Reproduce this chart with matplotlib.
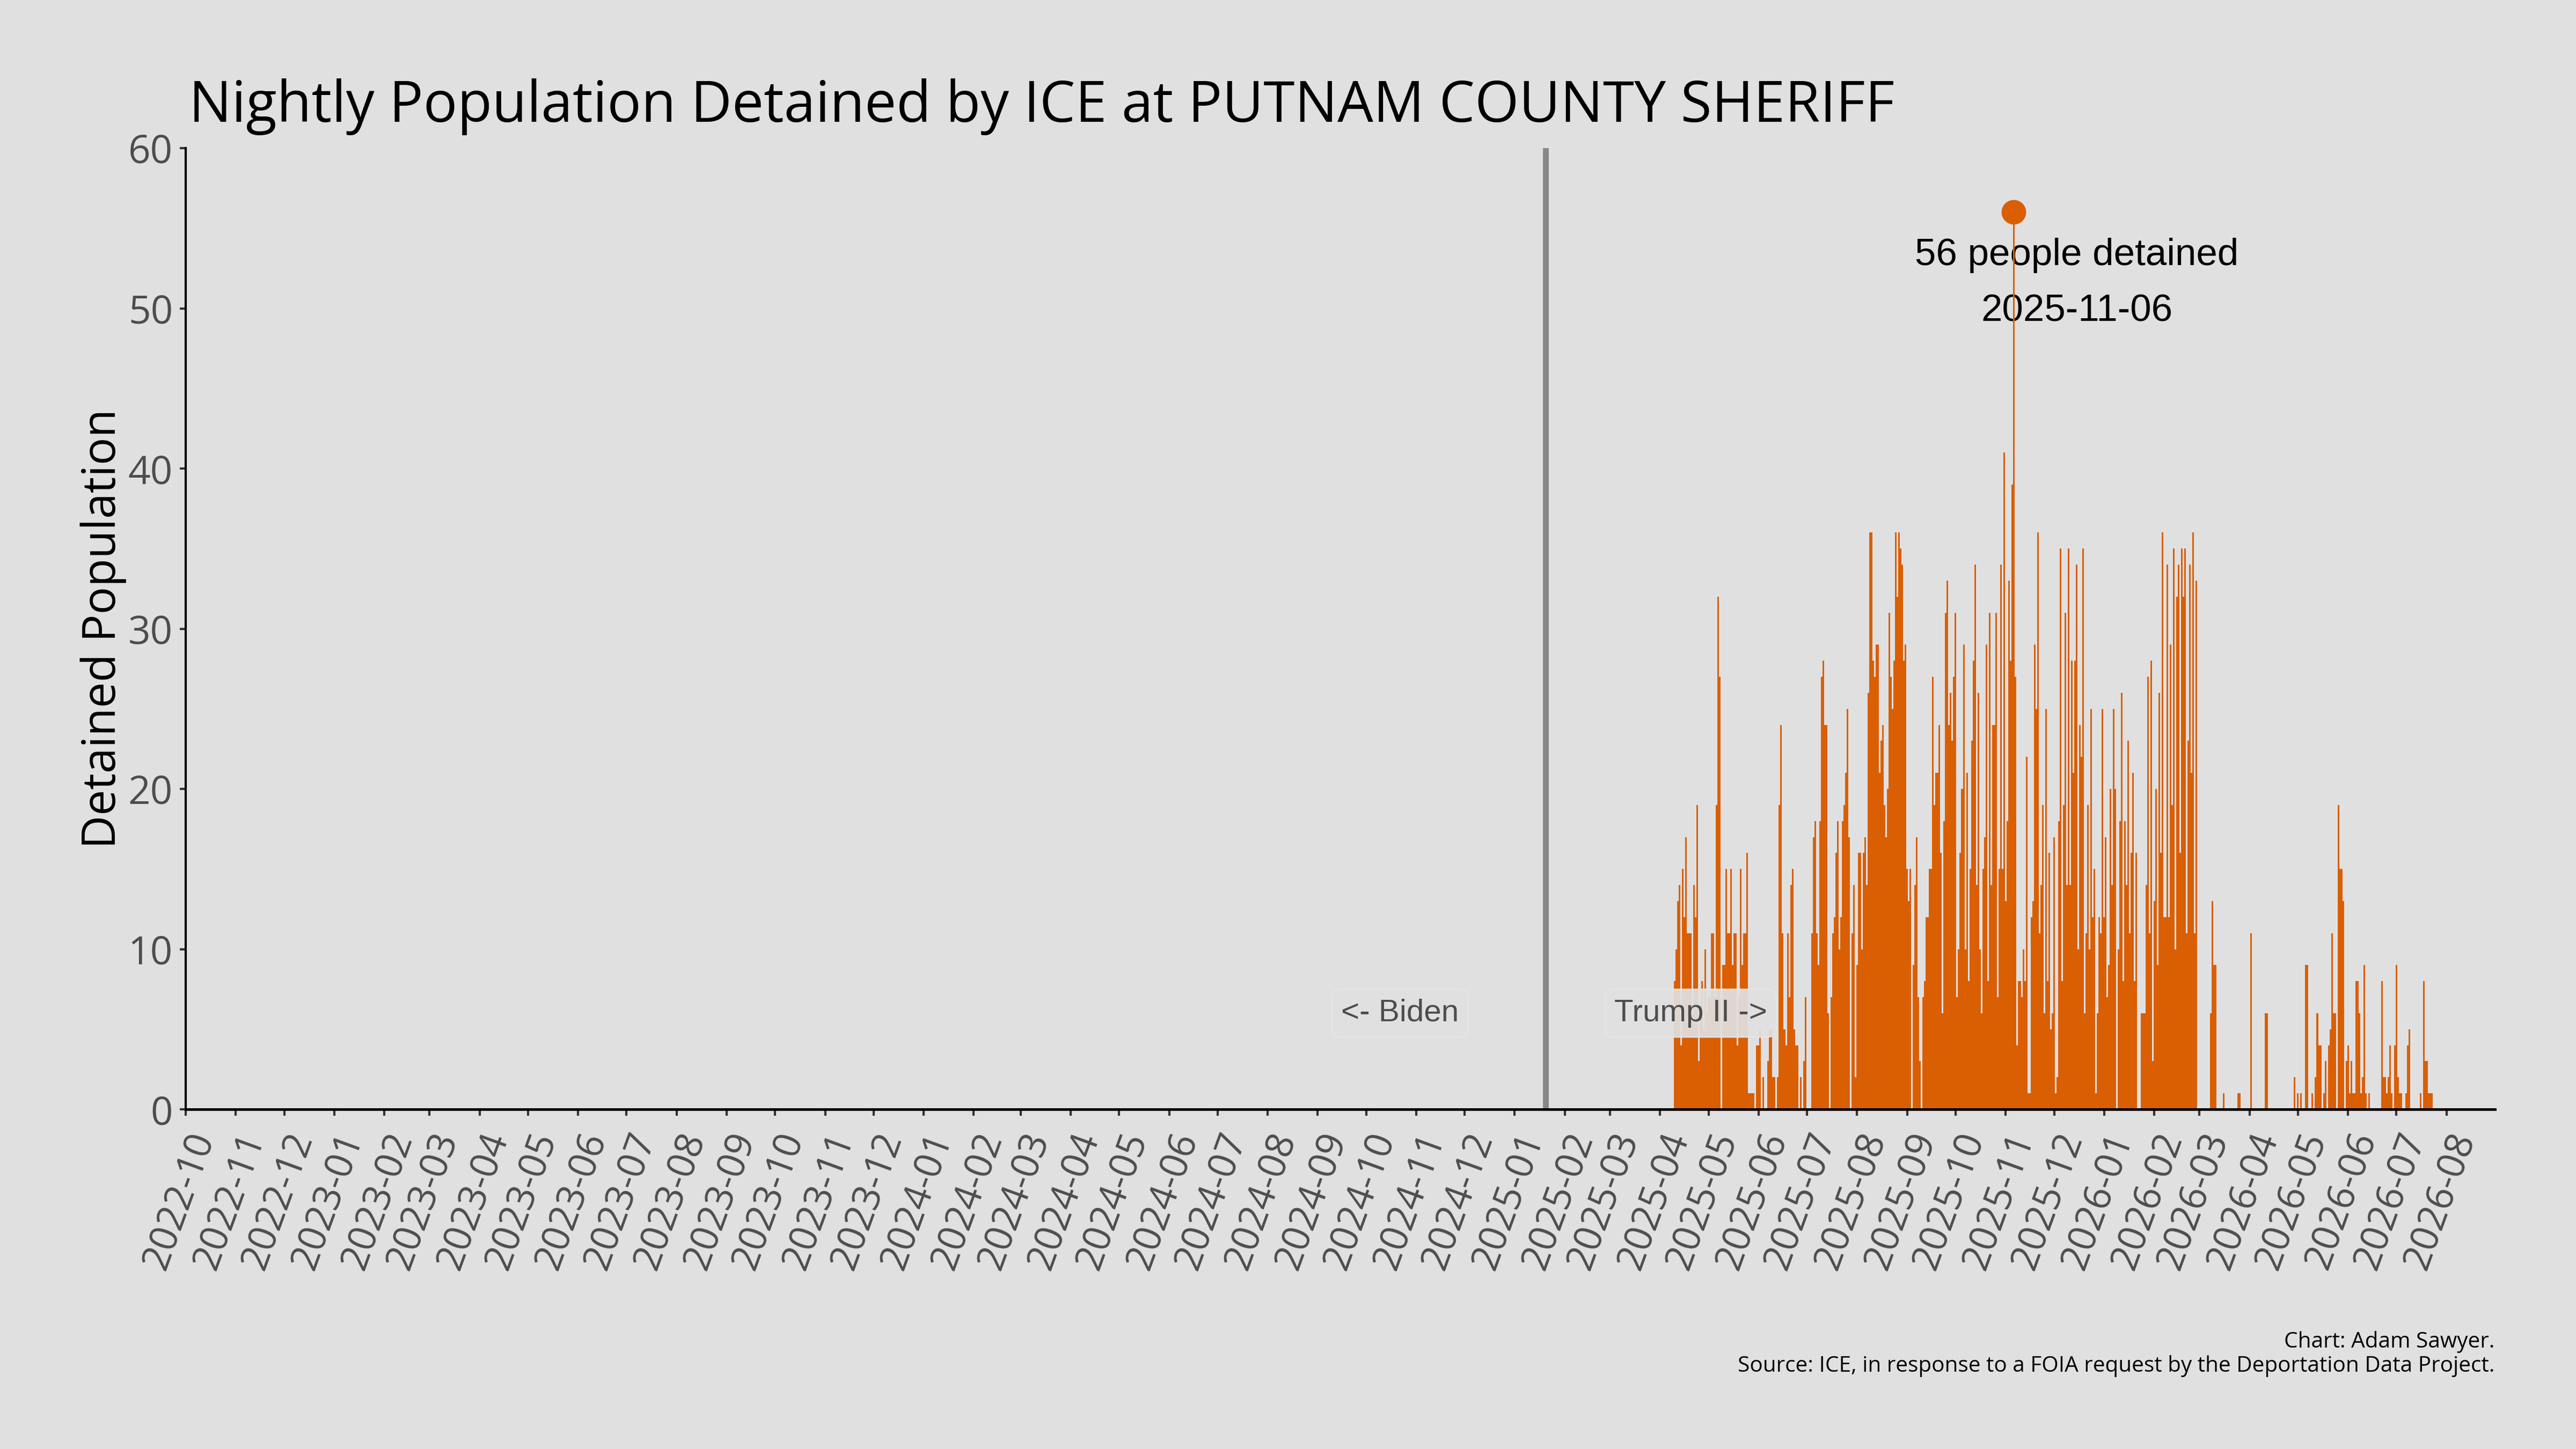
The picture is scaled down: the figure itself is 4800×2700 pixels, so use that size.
import matplotlib
matplotlib.use("Agg")
import matplotlib.pyplot as plt
import matplotlib.dates as mdates
import numpy as np
import pandas as pd

# ---------------- data (nightly detained population, daily) ----------------
series_start = "2025-04-10"
apr_2025 = [8, 10, 13, 14, 4, 15, 12, 17, 11, 11, 11, 6, 14, 12, 19, 3, 6, 8, 5, 10, 6]
may_2025 = [7, 7, 11, 11, 7, 19, 32, 27, 0, 9, 9, 15, 11, 11, 15, 9, 11, 11, 4, 7,
            15, 9, 11, 11, 16, 1, 1, 1, 1, 0, 4]
jun_2025 = [4, 5, 0, 2, 0, 0, 3, 5, 5, 2, 2, 0, 2, 19, 24, 11, 5, 4, 11, 7,
            14, 15, 5, 4, 4, 0, 2, 0, 3, 7]
jul_2025 = [0, 0, 0, 11, 17, 18, 11, 9, 18, 27, 28, 24, 24, 6, 0, 7, 11, 12, 16, 18,
            10, 12, 18, 19, 21, 25, 17, 0, 11, 14, 2]
aug_2025 = [9, 16, 16, 10, 16, 17, 14, 26, 36, 36, 28, 27, 29, 29, 21, 23, 24, 19, 17, 20,
            31, 27, 25, 28, 36, 32, 36, 35, 34, 28, 29]
sep_2025 = [15, 13, 15, 0, 9, 14, 17, 7, 3, 0, 7, 8, 12, 12, 15, 15, 27, 19, 21, 21,
            24, 16, 6, 18, 31, 33, 24, 26, 23, 27]
oct_2025 = [31, 7, 10, 16, 20, 29, 10, 21, 8, 15, 23, 28, 34, 14, 26, 10, 6, 15, 17, 29,
            8, 31, 14, 24, 24, 31, 7, 15, 34, 15, 41]
nov_2025 = [13, 18, 33, 28, 39, 56, 27, 4, 8, 8, 7, 10, 8, 22, 1, 1, 12, 13, 29, 25,
            36, 11, 14, 19, 6, 25, 8, 16, 5, 6]
dec_2025 = [17, 1, 2, 18, 35, 8, 19, 31, 14, 35, 14, 28, 21, 28, 34, 10, 24, 22, 35, 6,
            11, 19, 10, 25, 12, 15, 1, 6, 12, 11, 25]
jan_2026 = [12, 17, 7, 9, 20, 14, 25, 20, 0, 10, 18, 26, 8, 18, 14, 23, 11, 16, 21, 8,
            16, 0, 0, 6, 6, 6, 14, 27, 11, 28, 3]
feb_2026 = [13, 20, 9, 26, 16, 36, 12, 12, 34, 12, 29, 19, 35, 10, 32, 34, 16, 35, 32, 35,
            11, 23, 34, 21, 36, 11, 33, 0]
mar_2026 = [0, 0, 0, 0, 0, 0, 0, 6, 13, 9, 9, 0, 0, 0, 0, 1, 0, 0, 0, 0,
            0, 0, 0, 0, 1, 1, 0, 0, 0, 0, 0]
apr_2026 = [0, 11, 0, 0, 0, 0, 0, 0, 0, 0, 6, 6, 0, 0, 0, 0, 0, 0, 0, 0,
            0, 0, 0, 0, 0, 0, 0, 0, 2, 0]
may_2026 = [1, 0, 1, 0, 0, 9, 9, 0, 0, 1, 0, 2, 6, 4, 4, 0, 1, 3, 0, 4,
            5, 11, 6, 6, 0, 19, 15, 15, 13, 0, 3]
jun_2026 = [4, 1, 3, 1, 1, 8, 8, 6, 1, 2, 9, 1, 0, 1, 0, 0, 0, 0, 0, 0,
            0, 8, 2, 2, 1, 2, 4, 1, 0, 4]
jul_2026 = [9, 2, 1, 1, 0, 0, 1, 4, 5, 0, 0, 0, 0, 0, 0, 1, 0, 8, 3, 3, 1, 1, 1]

inauguration = "2025-01-20"
x_start, x_end = "2022-10-01", "2026-08-31"
title = "Nightly Population Detained by ICE at PUTNAM COUNTY SHERIFF"
y_label = "Detained Population"
left_label, right_label = "<- Biden", "Trump II ->"
caption_1 = "Chart: Adam Sawyer."
caption_2 = "Source: ICE, in response to a FOIA request by the Deportation Data Project."

values = np.array(apr_2025 + may_2025 + jun_2025 + jul_2025 + aug_2025 + sep_2025 +
                  oct_2025 + nov_2025 + dec_2025 + jan_2026 + feb_2026 + mar_2026 +
                  apr_2026 + may_2026 + jun_2026 + jul_2026)
dates = pd.date_range(series_start, periods=len(values), freq="D")

# ---------------- style ----------------
BG = "#e0e0e0"
ORANGE = "#d95f02"
GREY_TXT = "#4d4d4d"
UI_FONT = ["Open Sans", "DejaVu Sans"]
ARIAL = ["Liberation Sans", "DejaVu Sans"]

W, H = 4800, 2700
fig = plt.figure(figsize=(16, 9), dpi=300, facecolor=BG)
ax_left, ax_right, ax_bottom, ax_top = 346 / W, 4649 / W, 1 - 2067 / H, 1 - 276 / H
ax = fig.add_axes([ax_left, ax_bottom, ax_right - ax_left, ax_top - ax_bottom])
ax.set_facecolor(BG)

ax.bar(dates, values, width=1.0, color=ORANGE, linewidth=0, antialiased=False, zorder=2)

ax.set_xlim(mdates.date2num(pd.Timestamp(x_start)), mdates.date2num(pd.Timestamp(x_end)))
ax.set_ylim(0, 60)
ax.set_yticks(np.arange(0, 61, 10))

ax.xaxis.set_major_locator(mdates.MonthLocator())
ax.xaxis.set_major_formatter(mdates.DateFormatter("%Y-%m"))

for s in ["top", "right"]:
    ax.spines[s].set_visible(False)
ax.spines["left"].set_linewidth(1.0)
ax.spines["bottom"].set_linewidth(1.2)
ax.spines["left"].set_color("black")
ax.spines["bottom"].set_color("black")

ax.tick_params(axis="x", length=2.9, width=1.0, color="#333333", pad=5.0,
               labelsize=17, labelcolor=GREY_TXT)
ax.tick_params(axis="y", length=2.6, width=1.0, color="#333333", pad=3.1,
               labelsize=17.5, labelcolor=GREY_TXT)
for lab in ax.get_xticklabels():
    lab.set_rotation(70)
    lab.set_ha("right")
    lab.set_va("top")
    lab.set_rotation_mode("anchor")
    lab.set_family(UI_FONT)
for lab in ax.get_yticklabels():
    lab.set_family(UI_FONT)

# inauguration divider
inaug = pd.Timestamp(inauguration)
ax.axvline(inaug, color="#888888", lw=2.6, zorder=1.5)

box_kw = dict(boxstyle="round,pad=0.3", fc=BG, ec="#e6e6e6", lw=0.6, alpha=0.93)
ax.text(inaug - pd.Timedelta(days=90), 6, left_label, ha="center", va="center",
        fontsize=14, color=GREY_TXT, family=ARIAL, bbox=box_kw, zorder=4)
ax.text(inaug + pd.Timedelta(days=90), 6, right_label, ha="center", va="center",
        fontsize=14, color=GREY_TXT, family=ARIAL, bbox=box_kw, zorder=4)

# peak annotation
i_peak = int(np.argmax(values))
peak_date, peak_val = dates[i_peak], values[i_peak]
ax.plot([peak_date], [peak_val], "o", color=ORANGE, ms=10, zorder=5, clip_on=False)
lab_x = peak_date + pd.Timedelta(days=39)
ax.text(lab_x, peak_val - 3.3, f"{peak_val} people detained", ha="center",
        va="baseline", fontsize=17, color="black", family=ARIAL, zorder=1)
ax.text(lab_x, peak_val - 6.8, peak_date.strftime("%Y-%m-%d"), ha="center",
        va="baseline", fontsize=17, color="black", family=ARIAL, zorder=1)

# ---------------- figure texts ----------------
renderer = fig.canvas.get_renderer()


def fit_width(t, target_px, use_height=False):
    bb = t.get_window_extent(renderer)
    cur = bb.height if use_height else bb.width
    t.set_fontsize(t.get_fontsize() * target_px / cur)


t_title = fig.text(352 / W, 1 - 227 / H, title, ha="left", va="baseline",
                   fontsize=26, color="black", family=UI_FONT)
fit_width(t_title, 3180)

t_ylab = fig.text(215 / W, (ax_bottom + ax_top) / 2, y_label, rotation=90,
                  rotation_mode="anchor", ha="center", va="baseline",
                  fontsize=22, color="black", family=UI_FONT)
fit_width(t_ylab, 819, use_height=True)

t_c1 = fig.text(4649 / W, 1 - 2511 / H, caption_1, ha="right", va="baseline",
                fontsize=10, color="black", family=UI_FONT)
t_c2 = fig.text(4649 / W, 1 - 2556 / H, caption_2, ha="right", va="baseline",
                fontsize=10, color="black", family=UI_FONT)
fit_width(t_c2, 1414)
t_c1.set_fontsize(t_c2.get_fontsize())

fig.savefig("out.png", dpi=300, facecolor=BG)
